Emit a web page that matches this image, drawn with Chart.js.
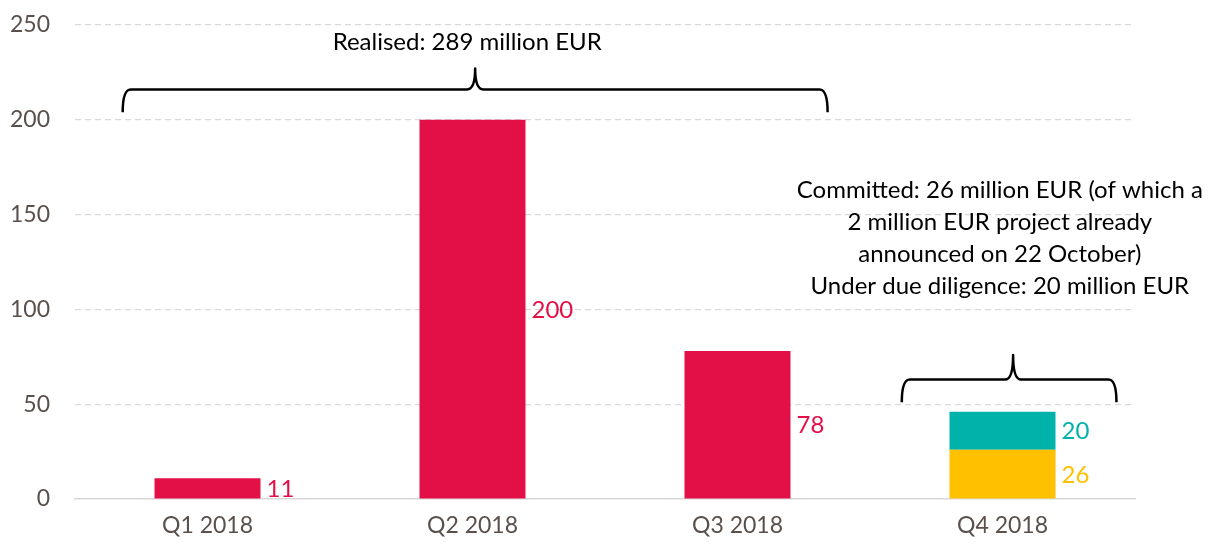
<!DOCTYPE html>
<html>
<head>
<meta charset="utf-8">
<script src="https://cdn.jsdelivr.net/npm/chart.js@4.4.0/dist/chart.umd.min.js"></script>
<style>
    html, body { margin: 0; padding: 0; background: #fff; }
    #wrap { width: 1210px; height: 544px; position: relative; }
</style>
</head>
<body>
<div id="wrap"><canvas id="myChart"></canvas></div>
<script>
const quarters = ['Q1 2018', 'Q2 2018', 'Q3 2018', 'Q4 2018'];
const realised = [11, 200, 78, null];
const committed = [null, null, null, 26];
const dueDiligence = [null, null, null, 20];
const yTicks = [0, 50, 100, 150, 200, 250];

const realisedText = ['Realised: 289 million EUR'];
const pipelineText = [
    'Committed: 26 million EUR (of which a',
    '2 million EUR project already',
    'announced on 22 October)',
    'Under due diligence: 20 million EUR'
];

const FONT = 'Lato, "Open Sans", sans-serif';
const RED = '#E31048';
const YELLOW = '#FFC000';
const TEAL = '#00B2A9';
const TICK_COLOR = '#59504c';

// braces: x in category index units, y in value units
const braces = [
    { from: -0.32, to: 2.34, mid: 1.01, tip: 204, line: 216, peak: 227 },
    { from: 2.62, to: 3.43, mid: 3.04, tip: 51, line: 63, peak: 76 }
];

// labels to the right of each bar, coloured like the bar
const valueLabels = {
    id: 'valueLabels',
    afterDatasetsDraw(chart) {
        const ctx = chart.ctx;
        ctx.save();
        ctx.font = '24px ' + FONT;
        ctx.textAlign = 'left';
        ctx.textBaseline = 'middle';
        chart.data.datasets.forEach((ds, i) => {
            const meta = chart.getDatasetMeta(i);
            meta.data.forEach((bar, j) => {
                const v = ds.data[j];
                if (v === null || v === undefined) return;
                const half = bar.width / 2;
                ctx.fillStyle = ds.backgroundColor;
                ctx.fillText(String(v), bar.x + half + 6, (bar.y + bar.base) / 2 + 1);
            });
        });
        ctx.restore();
    }
};

const annotations = {
    id: 'annotations',
    afterDraw(chart) {
        const ctx = chart.ctx;
        const xs = chart.scales.x;
        const ys = chart.scales.y;
        ctx.save();
        ctx.strokeStyle = '#000';
        ctx.lineWidth = 2.5;
        ctx.lineJoin = 'round';
        braces.forEach(b => {
            const l = xs.getPixelForValue(b.from);
            const r = xs.getPixelForValue(b.to);
            const m = xs.getPixelForValue(b.mid);
            const tip = ys.getPixelForValue(b.tip);
            const line = ys.getPixelForValue(b.line);
            const peak = ys.getPixelForValue(b.peak);
            const rad = 8;
            ctx.beginPath();
            ctx.moveTo(l, tip);
            ctx.quadraticCurveTo(l, line, l + rad, line);
            ctx.lineTo(m - rad, line);
            ctx.quadraticCurveTo(m, line, m, peak);
            ctx.quadraticCurveTo(m, line, m + rad, line);
            ctx.lineTo(r - rad, line);
            ctx.quadraticCurveTo(r, line, r, tip);
            ctx.stroke();
        });

        ctx.fillStyle = '#000';
        ctx.font = '24px ' + FONT;
        ctx.textAlign = 'center';
        ctx.textBaseline = 'middle';
        ctx.fillText(realisedText[0], xs.getPixelForValue(0.98), ys.getPixelForValue(241));
        const cx = xs.getPixelForValue(2.99);
        const top = ys.getPixelForValue(163);
        pipelineText.forEach((t, i) => ctx.fillText(t, cx, top + i * 32));
        ctx.restore();
    }
};

const ctx = document.getElementById('myChart').getContext('2d');
new Chart(ctx, {
    type: 'bar',
    data: {
        labels: quarters,
        datasets: [
            { label: 'Realised', data: realised, backgroundColor: RED },
            { label: 'Committed', data: committed, backgroundColor: YELLOW },
            { label: 'Under due diligence', data: dueDiligence, backgroundColor: TEAL }
        ]
    },
    plugins: [valueLabels, annotations],
    options: {
        responsive: true,
        maintainAspectRatio: false,
        animation: false,
        layout: { padding: { top: 25, right: 75, left: 0, bottom: 0 } },
        datasets: { bar: { categoryPercentage: 1, barPercentage: 0.4 } },
        plugins: {
            legend: { display: false },
            tooltip: { enabled: false }
        },
        scales: {
            x: {
                stacked: true,
                grid: { display: false, drawTicks: false },
                border: { color: '#D9D9D9', width: 1.5 },
                ticks: { color: TICK_COLOR, font: { family: FONT, size: 23 }, padding: 13 },
                afterFit(scale) { scale.height = 45; }
            },
            y: {
                stacked: true,
                min: 0,
                max: 250,
                afterBuildTicks(scale) { scale.ticks = yTicks.map(v => ({ value: v })); },
                grid: {
                    color: ctx => ctx.tick && ctx.tick.value === 0 ? 'rgba(0,0,0,0)' : '#D9D9D9',
                    lineWidth: 1.2,
                    drawTicks: false
                },
                border: { display: false, dash: [6, 4] },
                ticks: { color: TICK_COLOR, font: { family: FONT, size: 23 }, padding: 25 },
                afterFit(scale) {
                    scale.width = 75;
                    scale.paddingTop = 0;
                    scale.paddingBottom = 0;
                }
            }
        }
    }
});
</script>
</body>
</html>
